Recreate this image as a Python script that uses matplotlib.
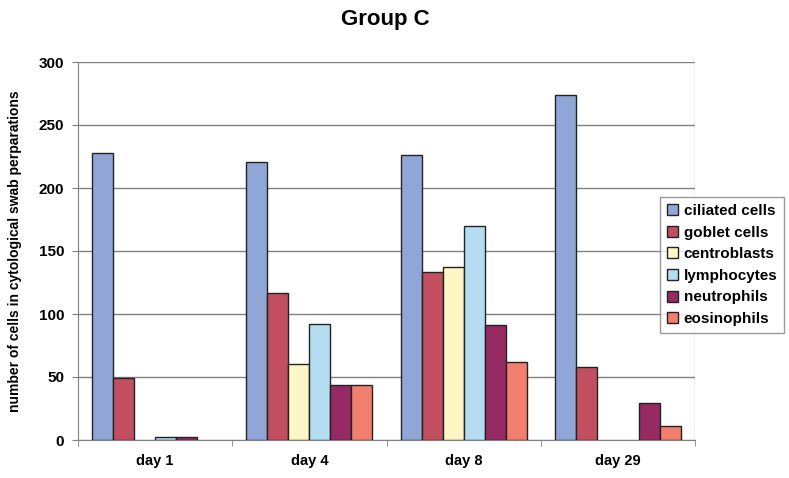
import matplotlib
matplotlib.use("Agg")
import matplotlib.pyplot as plt
from matplotlib.patches import Patch
import numpy as np

plt.rcParams["font.family"] = ["Liberation Sans", "DejaVu Sans"]

categories = ["day 1", "day 4", "day 8", "day 29"]
series_names = ["ciliated cells", "goblet cells", "centroblasts", "lymphocytes", "neutrophils", "eosinophils"]
ciliated = [228, 221, 226, 274]
goblet = [49, 117, 133, 58]
centroblasts = [0, 60, 137, 0]
lymphocytes = [2, 92, 170, 0]
neutrophils = [2, 44, 91, 29]
eosinophils = [0, 44, 62, 11]
yticks = [0, 50, 100, 150, 200, 250, 300]

series = [ciliated, goblet, centroblasts, lymphocytes, neutrophils, eosinophils]
colors = ["#8FA6D6", "#C24F60", "#FFF6C6", "#B5DDF1", "#952B62", "#F27F6D"]

fig = plt.figure(figsize=(7.89, 4.78), dpi=100)
ax = fig.add_axes([78/789, 1-440/478, (695-78)/789, (440-62)/478])

x = np.arange(len(categories))
w = 0.136
for i, (vals, c, name) in enumerate(zip(series, colors, series_names)):
    lws = [1.0 if v > 0 else 0.0 for v in vals]
    ax.bar(x + (i - 2.5) * w, vals, w, color=c, edgecolor="#222222", linewidth=lws, zorder=3)

ax.set_xlim(-0.5, len(categories) - 0.5)
ax.set_ylim(0, 300)
ax.set_yticks(yticks)
ax.set_yticklabels([str(t) for t in yticks], fontsize=11, fontweight="bold")
ax.set_xticks(x)
ax.set_xticklabels(categories, fontsize=10.5, fontweight="bold")
ax.tick_params(axis="x", length=0, pad=10)
ax.set_xticks(np.arange(len(categories) + 1) - 0.5, minor=True)
ax.tick_params(axis="x", which="minor", length=4, color="#808080")
ax.tick_params(axis="y", length=4, color="#808080", pad=6)
ax.yaxis.grid(True, color="#808080", linewidth=1.0, zorder=0)
ax.set_axisbelow(True)
for s in ["top", "right"]:
    ax.spines[s].set_visible(False)
for s in ["left", "bottom"]:
    ax.spines[s].set_color("#808080")
ax.axvline(len(categories) - 0.5, color="#b0b0b0", linewidth=1.0, zorder=1)

ax.set_ylabel("number of cells in cytological swab perparations", fontsize=10, fontweight="bold", labelpad=12)
fig.text(385/789, 1-19/478, "Group C", ha="center", va="center", fontsize=16, fontweight="bold")

handles = [Patch(facecolor=c, edgecolor="#222222", linewidth=1.0, label=n) for c, n in zip(colors, series_names)]
leg = fig.legend(handles=handles, loc="upper left", bbox_to_anchor=(660/789, 1-197/478),
                 prop={"weight": "bold", "size": 11},
                 frameon=True, fancybox=False, edgecolor="#808080", handlelength=0.75, handleheight=0.75,
                 handletextpad=0.35, labelspacing=0.5, borderpad=0.45, borderaxespad=0)
leg.get_frame().set_linewidth(1.0)

fig.savefig("out.png", dpi=100, facecolor="white")
